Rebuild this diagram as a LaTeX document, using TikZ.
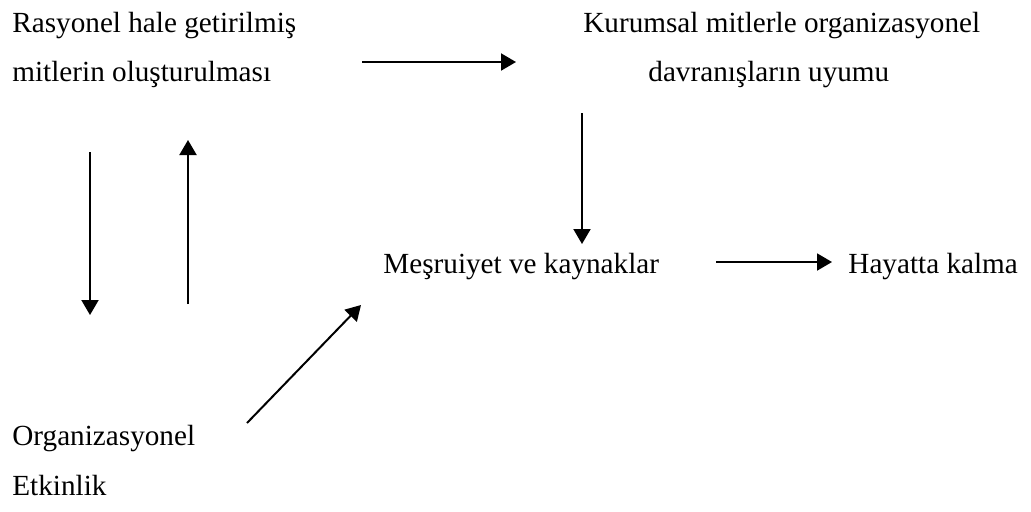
\documentclass[tikz,border=0pt]{standalone}
\usepackage{fontspec}
\setmainfont{Liberation Serif}
\usetikzlibrary{arrows.meta}
\begin{document}
\begin{tikzpicture}[x=0.5pt,y=-0.5pt,
  label text/.style={anchor=base west,inner sep=0pt,font=\fontsize{14.6pt}{17pt}\selectfont},
  flow/.style={line width=1pt,-{Triangle[length=7.5pt,width=8.5pt]}}]
\useasboundingbox (0,0) rectangle (1031,511);
% text blocks
\node[label text] (r1) at (12,32) {Rasyonel hale getirilmiş};
\node[label text] (r2) at (12,81) {mitlerin oluşturulması};
\node[label text] (k1) at (583,32) {Kurumsal mitlerle organizasyonel};
\node[label text] (k2) at (648,81) {davranışların uyumu};
\node[label text] (m) at (383,273) {Meşruiyet ve kaynaklar};
\node[label text] (h) at (848,273) {Hayatta kalma};
\node[label text] (o1) at (12,445) {Organizasyonel};
\node[label text] (o2) at (12,495) {Etkinlik};
% arrow end points
\coordinate (a1s) at (362,62);  \coordinate (a1e) at (516,62);
\coordinate (a2s) at (582,113); \coordinate (a2e) at (582,244);
\coordinate (a3s) at (716,262); \coordinate (a3e) at (832,262);
\coordinate (a4s) at (90,152);  \coordinate (a4e) at (90,315);
\coordinate (a5s) at (188,304); \coordinate (a5e) at (188,140);
\coordinate (a6s) at (247,423); \coordinate (a6e) at (361,305);
% connectors
\draw[flow] (a1s) -- (a1e);
\draw[flow] (a2s) -- (a2e);
\draw[flow] (a3s) -- (a3e);
\draw[flow] (a4s) -- (a4e);
\draw[flow] (a5s) -- (a5e);
\draw[flow] (a6s) -- (a6e);
\end{tikzpicture}
\end{document}
